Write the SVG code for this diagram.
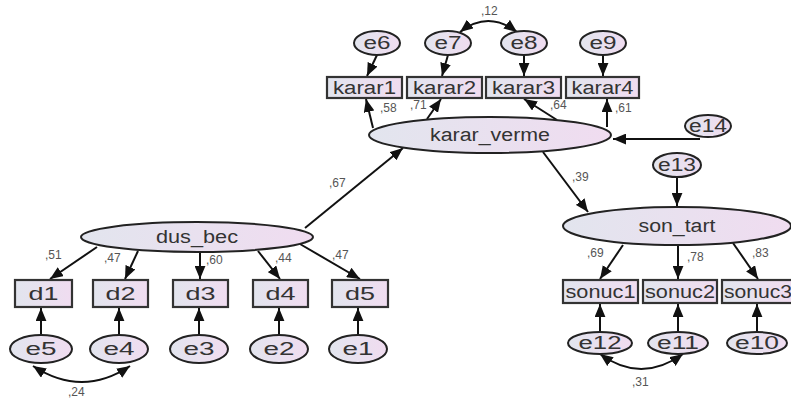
<svg xmlns="http://www.w3.org/2000/svg" width="791" height="398" viewBox="0 0 791 398">
<defs>
<linearGradient id="g" x1="0" y1="0" x2="1" y2="0">
<stop offset="0" stop-color="#e2e5ee"/>
<stop offset="1" stop-color="#f0dcf0"/>
</linearGradient>
<marker id="ah" viewBox="0 0 12 10" refX="12" refY="5" markerWidth="13" markerHeight="11" markerUnits="userSpaceOnUse" orient="auto">
<path d="M0,0 L12,5 L0,10 z" fill="#111"/>
</marker>
<marker id="ahs" viewBox="0 0 12 10" refX="12" refY="5" markerWidth="13" markerHeight="11" markerUnits="userSpaceOnUse" orient="auto-start-reverse">
<path d="M0,0 L12,5 L0,10 z" fill="#111"/>
</marker>
</defs>
<style>
.n ellipse{fill:url(#g);stroke:#222;stroke-width:2}
.n rect{fill:url(#g);stroke:#333;stroke-width:2.2}
.t{font-family:"Liberation Sans",Arial,sans-serif;font-size:18px;fill:#333;text-anchor:middle}
.c line,.c path{stroke:#111;stroke-width:2;fill:none}
.a{marker-end:url(#ah)}
.b{marker-start:url(#ahs);marker-end:url(#ah)}
.l{font-family:"Liberation Sans",Arial,sans-serif;font-size:12px;fill:#555}
</style>
<rect width="791" height="398" fill="#fff"/>
<g class="c">
<line class="a" x1="377" y1="55" x2="367" y2="76"/>
<line class="a" x1="448" y1="55" x2="442" y2="76"/>
<line class="a" x1="524" y1="55" x2="524" y2="76"/>
<line class="a" x1="603" y1="55" x2="603" y2="76"/>
<path class="b" d="M460,32 Q488,10 517,32"/>
<line class="a" x1="373" y1="128" x2="366" y2="99"/>
<line class="a" x1="427" y1="119" x2="441" y2="99"/>
<line class="a" x1="557" y1="120" x2="524" y2="99"/>
<line class="a" x1="607" y1="127" x2="607" y2="99"/>
<line class="a" x1="700" y1="139" x2="613" y2="139"/>
<line class="a" x1="305" y1="228" x2="403" y2="148"/>
<line class="a" x1="543" y1="152" x2="588" y2="212"/>
<line class="a" x1="677" y1="177" x2="677" y2="206"/>
<line class="a" x1="97" y1="247" x2="50" y2="279"/>
<line class="a" x1="138" y1="251" x2="125" y2="279"/>
<line class="a" x1="200" y1="252" x2="200" y2="279"/>
<line class="a" x1="258" y1="251" x2="280" y2="279"/>
<line class="a" x1="300" y1="244" x2="360" y2="279"/>
<line class="a" x1="41" y1="335" x2="41" y2="308"/>
<line class="a" x1="119" y1="335" x2="119" y2="308"/>
<line class="a" x1="199" y1="335" x2="199" y2="308"/>
<line class="a" x1="279" y1="335" x2="279" y2="308"/>
<line class="a" x1="358" y1="335" x2="358" y2="308"/>
<path class="b" d="M33,366 Q82,398 130,366"/>
<line class="a" x1="623" y1="245" x2="600" y2="279"/>
<line class="a" x1="678" y1="245" x2="678" y2="279"/>
<line class="a" x1="733" y1="243" x2="758" y2="279"/>
<line class="a" x1="600" y1="332" x2="600" y2="304"/>
<line class="a" x1="678" y1="332" x2="678" y2="304"/>
<line class="a" x1="757" y1="332" x2="757" y2="304"/>
<path class="b" d="M600,354 Q641,384 683,354"/>
</g>
<g class="labels">
<text class="l" x="481" y="15">,12</text>
<text class="l" x="380" y="112">,58</text>
<text class="l" x="410" y="109">,71</text>
<text class="l" x="550" y="109">,64</text>
<text class="l" x="615" y="112">,61</text>
<text class="l" x="329" y="187">,67</text>
<text class="l" x="572" y="181">,39</text>
<text class="l" x="45" y="259">,51</text>
<text class="l" x="104" y="262">,47</text>
<text class="l" x="206" y="264">,60</text>
<text class="l" x="275" y="262">,44</text>
<text class="l" x="332" y="259">,47</text>
<text class="l" x="68" y="396">,24</text>
<text class="l" x="587" y="257">,69</text>
<text class="l" x="687" y="261">,78</text>
<text class="l" x="752" y="257">,83</text>
<text class="l" x="632" y="386">,31</text>
</g>
<g id="e6" class="n"><ellipse cx="377" cy="43" rx="23" ry="12"/><text class="t" x="377" y="49" textLength="27" lengthAdjust="spacingAndGlyphs">e6</text></g>
<g id="e7" class="n"><ellipse cx="448" cy="43" rx="23" ry="12"/><text class="t" x="448" y="49" textLength="27" lengthAdjust="spacingAndGlyphs">e7</text></g>
<g id="e8" class="n"><ellipse cx="524" cy="43" rx="23" ry="12"/><text class="t" x="524" y="49" textLength="27" lengthAdjust="spacingAndGlyphs">e8</text></g>
<g id="e9" class="n"><ellipse cx="603" cy="43" rx="23" ry="12"/><text class="t" x="603" y="49" textLength="27" lengthAdjust="spacingAndGlyphs">e9</text></g>
<g id="karar1" class="n"><rect x="327" y="77" width="75" height="21"/><text class="t" x="364.5" y="94" textLength="63" lengthAdjust="spacingAndGlyphs">karar1</text></g>
<g id="karar2" class="n"><rect x="407" y="77" width="75" height="21"/><text class="t" x="444.5" y="94" textLength="63" lengthAdjust="spacingAndGlyphs">karar2</text></g>
<g id="karar3" class="n"><rect x="486" y="77" width="75" height="21"/><text class="t" x="523.5" y="94" textLength="63" lengthAdjust="spacingAndGlyphs">karar3</text></g>
<g id="karar4" class="n"><rect x="566" y="77" width="73" height="21"/><text class="t" x="602.5" y="94" textLength="62" lengthAdjust="spacingAndGlyphs">karar4</text></g>
<g id="karar_verme" class="n"><ellipse cx="490" cy="135" rx="121" ry="18"/><text class="t" x="490" y="141" textLength="120" lengthAdjust="spacingAndGlyphs">karar_verme</text></g>
<g id="e14" class="n"><ellipse cx="708" cy="126" rx="23" ry="11"/><text class="t" x="708" y="132" textLength="38" lengthAdjust="spacingAndGlyphs">e14</text></g>
<g id="e13" class="n"><ellipse cx="677" cy="165" rx="24" ry="12"/><text class="t" x="677" y="171" textLength="38" lengthAdjust="spacingAndGlyphs">e13</text></g>
<g id="son_tart" class="n"><ellipse cx="677" cy="226" rx="114" ry="19"/><text class="t" x="677" y="232" textLength="77" lengthAdjust="spacingAndGlyphs">son_tart</text></g>
<g id="dus_bec" class="n"><ellipse cx="197" cy="237" rx="116" ry="15"/><text class="t" x="197" y="243" textLength="82" lengthAdjust="spacingAndGlyphs">dus_bec</text></g>
<g id="d1" class="n"><rect x="15" y="280" width="57" height="27"/><text class="t" x="43.5" y="300" textLength="30" lengthAdjust="spacingAndGlyphs">d1</text></g>
<g id="d2" class="n"><rect x="93" y="280" width="55" height="27"/><text class="t" x="120.5" y="300" textLength="30" lengthAdjust="spacingAndGlyphs">d2</text></g>
<g id="d3" class="n"><rect x="173" y="280" width="55" height="27"/><text class="t" x="200.5" y="300" textLength="30" lengthAdjust="spacingAndGlyphs">d3</text></g>
<g id="d4" class="n"><rect x="253" y="280" width="55" height="27"/><text class="t" x="280.5" y="300" textLength="30" lengthAdjust="spacingAndGlyphs">d4</text></g>
<g id="d5" class="n"><rect x="332" y="280" width="56" height="27"/><text class="t" x="360" y="300" textLength="30" lengthAdjust="spacingAndGlyphs">d5</text></g>
<g id="e5" class="n"><ellipse cx="41" cy="349" rx="31" ry="14"/><text class="t" x="41" y="355" textLength="31" lengthAdjust="spacingAndGlyphs">e5</text></g>
<g id="e4" class="n"><ellipse cx="119" cy="349" rx="29" ry="14"/><text class="t" x="119" y="355" textLength="31" lengthAdjust="spacingAndGlyphs">e4</text></g>
<g id="e3" class="n"><ellipse cx="199" cy="349" rx="29" ry="14"/><text class="t" x="199" y="355" textLength="31" lengthAdjust="spacingAndGlyphs">e3</text></g>
<g id="e2" class="n"><ellipse cx="279" cy="349" rx="29" ry="14"/><text class="t" x="279" y="355" textLength="31" lengthAdjust="spacingAndGlyphs">e2</text></g>
<g id="e1" class="n"><ellipse cx="358" cy="349" rx="29" ry="14"/><text class="t" x="358" y="355" textLength="31" lengthAdjust="spacingAndGlyphs">e1</text></g>
<g id="sonuc1" class="n"><rect x="563" y="280" width="75" height="23"/><text class="t" x="600.5" y="298" textLength="70" lengthAdjust="spacingAndGlyphs">sonuc1</text></g>
<g id="sonuc2" class="n"><rect x="643" y="280" width="74" height="23"/><text class="t" x="680" y="298" textLength="70" lengthAdjust="spacingAndGlyphs">sonuc2</text></g>
<g id="sonuc3" class="n"><rect x="722" y="280" width="72" height="23"/><text class="t" x="758" y="298" textLength="68" lengthAdjust="spacingAndGlyphs">sonuc3</text></g>
<g id="e12" class="n"><ellipse cx="600" cy="343" rx="32" ry="11"/><text class="t" x="600" y="349" textLength="43" lengthAdjust="spacingAndGlyphs">e12</text></g>
<g id="e11" class="n"><ellipse cx="678" cy="343" rx="30" ry="11"/><text class="t" x="678" y="349" textLength="42" lengthAdjust="spacingAndGlyphs">e11</text></g>
<g id="e10" class="n"><ellipse cx="757" cy="343" rx="30" ry="11"/><text class="t" x="757" y="349" textLength="44" lengthAdjust="spacingAndGlyphs">e10</text></g>
</svg>
